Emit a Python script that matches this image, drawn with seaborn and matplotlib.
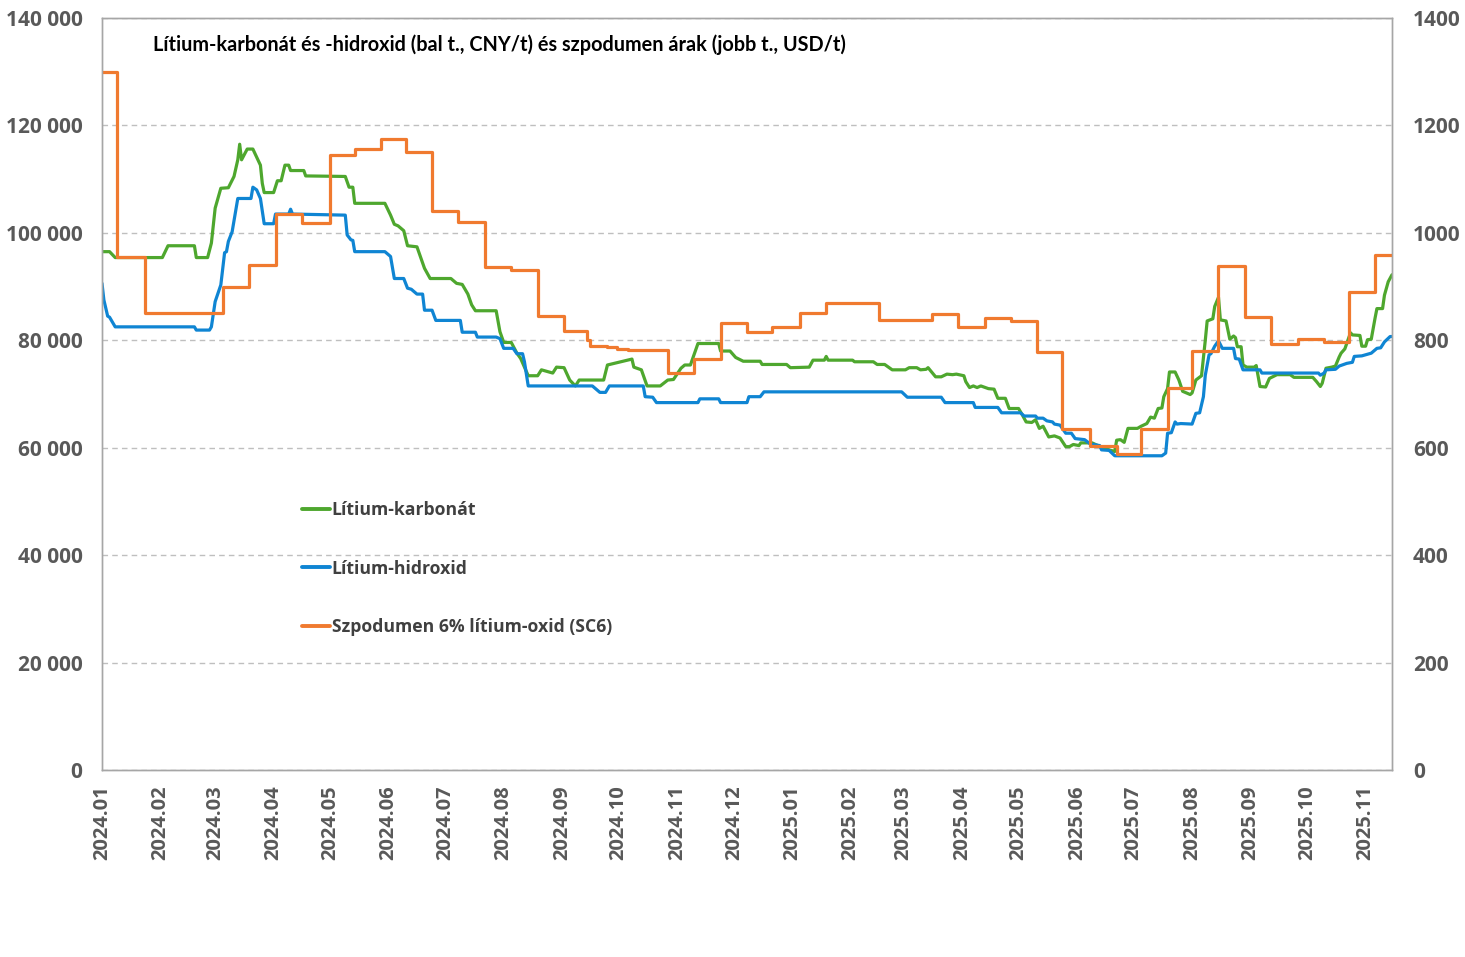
import matplotlib
matplotlib.use("Agg")
import matplotlib.pyplot as plt
from matplotlib.ticker import FuncFormatter, MultipleLocator
from matplotlib.lines import Line2D
import pandas as pd
import seaborn as sns

# ---------------- data ----------------
carbonate_dates = [
    "2024-01-01","2024-01-05","2024-01-08","2024-02-02","2024-02-05","2024-02-19","2024-02-20","2024-02-26",
    "2024-02-28","2024-03-01","2024-03-04","2024-03-08","2024-03-11","2024-03-13","2024-03-14","2024-03-15",
    "2024-03-18","2024-03-21","2024-03-25","2024-03-26","2024-03-27","2024-04-01","2024-04-03","2024-04-05",
    "2024-04-07","2024-04-09","2024-04-10","2024-04-17","2024-04-18","2024-05-09","2024-05-11","2024-05-13",
    "2024-05-14","2024-05-30","2024-06-02","2024-06-04","2024-06-06","2024-06-09","2024-06-11","2024-06-16",
    "2024-06-20","2024-06-23","2024-07-04","2024-07-07","2024-07-10","2024-07-13","2024-07-15","2024-07-17",
    "2024-07-28","2024-07-30","2024-08-01","2024-08-05","2024-08-08","2024-08-10","2024-08-14","2024-08-19",
    "2024-08-21","2024-08-27","2024-08-29","2024-09-02","2024-09-05","2024-09-08","2024-09-10","2024-09-23",
    "2024-09-25","2024-10-08","2024-10-09","2024-10-13","2024-10-16","2024-10-23","2024-10-27","2024-10-30",
    "2024-11-03","2024-11-05","2024-11-08","2024-11-12","2024-11-23","2024-11-24","2024-11-29","2024-12-02",
    "2024-12-06","2024-12-15","2024-12-16","2024-12-29","2024-12-31","2025-01-10","2025-01-12","2025-01-18",
    "2025-01-19","2025-01-20","2025-02-02","2025-02-03","2025-02-13","2025-02-15","2025-02-19","2025-02-21",
    "2025-02-23","2025-03-02","2025-03-04","2025-03-08","2025-03-10","2025-03-13","2025-03-14","2025-03-18",
    "2025-03-21","2025-03-24","2025-03-27","2025-03-29","2025-04-02","2025-04-03","2025-04-05","2025-04-07",
    "2025-04-09","2025-04-11","2025-04-15","2025-04-18","2025-04-20","2025-04-24","2025-04-26","2025-05-01",
    "2025-05-03","2025-05-05","2025-05-08","2025-05-10","2025-05-12","2025-05-14","2025-05-17","2025-05-20",
    "2025-05-23","2025-05-26","2025-05-28","2025-05-30","2025-06-02","2025-06-03","2025-06-09","2025-06-12",
    "2025-06-16","2025-06-19","2025-06-21","2025-06-22","2025-06-24","2025-06-26","2025-06-28","2025-07-03",
    "2025-07-05","2025-07-08","2025-07-10","2025-07-12","2025-07-14","2025-07-16","2025-07-17","2025-07-19",
    "2025-07-20","2025-07-23","2025-07-25","2025-07-27","2025-07-31","2025-08-01","2025-08-03","2025-08-06",
    "2025-08-08","2025-08-09","2025-08-12","2025-08-13","2025-08-15","2025-08-16","2025-08-19","2025-08-21",
    "2025-08-23","2025-08-24","2025-08-25","2025-08-27","2025-08-28","2025-08-30","2025-09-03","2025-09-04",
    "2025-09-06","2025-09-09","2025-09-11","2025-09-15","2025-09-22","2025-09-24","2025-10-04","2025-10-06",
    "2025-10-08","2025-10-09","2025-10-11","2025-10-14","2025-10-16","2025-10-18","2025-10-19","2025-10-21",
    "2025-10-23","2025-10-24","2025-10-25","2025-10-29","2025-10-30","2025-11-01","2025-11-02","2025-11-04",
    "2025-11-06","2025-11-07","2025-11-10","2025-11-11","2025-11-13","2025-11-15",
]
carbonate_values = [
    96500, 96500, 95400, 95400, 97600, 97600, 95400, 95400,
    98100, 104600, 108300, 108400, 110500, 113600, 116500, 113600,
    115600, 115600, 112600, 109200, 107500, 107500, 109700, 109700,
    112600, 112600, 111600, 111600, 110600, 110500, 108500, 108500,
    105500, 105500, 103300, 101600, 101300, 100400, 97600, 97400,
    93400, 91500, 91500, 90600, 90400, 88600, 86600, 85500,
    85500, 81600, 79600, 79600, 77600, 76600, 73400, 73400,
    74500, 73900, 75000, 74900, 72600, 71500, 72600, 72600,
    75400, 76500, 75000, 74500, 71500, 71500, 72600, 72700,
    74800, 75400, 75400, 79400, 79400, 78000, 78000, 76800,
    76100, 76100, 75500, 75500, 74900, 75000, 76300, 76300,
    77000, 76300, 76300, 76000, 76000, 75500, 75500, 75000,
    74500, 74500, 74900, 74900, 74500, 74600, 74900, 73200,
    73200, 73700, 73600, 73700, 73400, 72300, 71200, 71500,
    71200, 71500, 71000, 70900, 69200, 69200, 67300, 67300,
    66100, 64800, 64700, 65200, 63600, 64000, 62000, 62200,
    61800, 60200, 60200, 60600, 60400, 60900, 60900, 60400,
    59800, 59500, 59300, 61400, 61500, 61000, 63600, 63600,
    64000, 64500, 65700, 65500, 67300, 67400, 69500, 71000,
    74100, 74100, 72600, 70500, 69900, 70200, 72600, 73400,
    80000, 83600, 84000, 86300, 88000, 83800, 83600, 80200,
    80800, 80500, 78800, 78800, 75400, 75000, 75000, 75300,
    71400, 71300, 72900, 73600, 73600, 73100, 73100, 72300,
    71400, 72000, 74800, 75000, 75200, 76900, 77600, 78400,
    80400, 81400, 81000, 80900, 78900, 78900, 80100, 80200,
    84100, 85900, 85900, 88400, 90900, 92200,
]

hydroxide_dates = [
    "2024-01-01","2024-01-02","2024-01-04","2024-01-05","2024-01-08","2024-02-19","2024-02-20","2024-02-27",
    "2024-02-28","2024-03-01","2024-03-04","2024-03-06","2024-03-07","2024-03-08","2024-03-10","2024-03-13",
    "2024-03-20","2024-03-21","2024-03-23","2024-03-25","2024-03-27","2024-04-01","2024-04-02","2024-04-09",
    "2024-04-10","2024-04-11","2024-05-09","2024-05-10","2024-05-12","2024-05-13","2024-05-14","2024-05-30",
    "2024-06-02","2024-06-04","2024-06-09","2024-06-11","2024-06-13","2024-06-16","2024-06-19","2024-06-20",
    "2024-06-24","2024-06-26","2024-07-09","2024-07-10","2024-07-17","2024-07-18","2024-07-28","2024-07-30",
    "2024-08-01","2024-08-06","2024-08-08","2024-08-11","2024-08-12","2024-08-14","2024-09-17","2024-09-21",
    "2024-09-24","2024-09-26","2024-10-14","2024-10-15","2024-10-19","2024-10-21","2024-11-12","2024-11-13",
    "2024-11-23","2024-11-24","2024-12-08","2024-12-09","2024-12-15","2024-12-17","2025-02-28","2025-03-03",
    "2025-03-21","2025-03-23","2025-04-07","2025-04-08","2025-04-20","2025-04-22","2025-05-02","2025-05-04",
    "2025-05-10","2025-05-11","2025-05-14","2025-05-16","2025-05-19","2025-05-20","2025-05-23","2025-05-26",
    "2025-05-29","2025-05-31","2025-06-05","2025-06-08","2025-06-13","2025-06-14","2025-06-18","2025-06-21",
    "2025-07-16","2025-07-18","2025-07-19","2025-07-21","2025-07-23","2025-07-24","2025-07-26","2025-08-01",
    "2025-08-03","2025-08-05","2025-08-07","2025-08-08","2025-08-10","2025-08-11","2025-08-13","2025-08-15",
    "2025-08-17","2025-08-23","2025-08-24","2025-08-26","2025-08-28","2025-09-06","2025-09-07","2025-10-07",
    "2025-10-08","2025-10-10","2025-10-11","2025-10-16","2025-10-18","2025-10-22","2025-10-25","2025-10-26",
    "2025-10-30","2025-11-02","2025-11-04","2025-11-07","2025-11-09","2025-11-11","2025-11-14","2025-11-15",
]
hydroxide_values = [
    90600, 87500, 84500, 84300, 82500, 82500, 81900, 81900,
    82500, 87200, 90300, 96300, 96500, 98400, 100200, 106400,
    106400, 108500, 108000, 106400, 101700, 101700, 103500, 103500,
    104400, 103500, 103300, 99600, 98700, 98600, 96500, 96500,
    95600, 91500, 91500, 89700, 89500, 88600, 88600, 85600,
    85600, 83700, 83700, 81500, 81500, 80600, 80600, 80300,
    78500, 78500, 77500, 77500, 76000, 71500, 71500, 70300,
    70300, 71500, 71500, 69500, 69400, 68400, 68400, 69100,
    69100, 68400, 68400, 69500, 69500, 70400, 70400, 69400,
    69400, 68400, 68400, 67500, 67500, 66500, 66500, 65900,
    65900, 65500, 65500, 65000, 64800, 64400, 64200, 62700,
    62700, 61700, 61500, 60700, 60400, 59600, 59500, 58500,
    58500, 59000, 62700, 62800, 64800, 64400, 64500, 64400,
    66400, 66500, 69500, 73500, 77300, 77500, 78900, 79900,
    78500, 78500, 76600, 76500, 74500, 74500, 73900, 73900,
    73500, 73900, 74500, 74600, 75200, 75700, 75900, 77000,
    77100, 77400, 77600, 78500, 78600, 79700, 80700, 80700,
]

spodumene_dates = [
    "2024-01-01","2024-01-09","2024-01-24","2024-03-05","2024-03-19","2024-04-02","2024-04-16","2024-05-01",
    "2024-05-14","2024-05-28","2024-06-10","2024-06-24","2024-07-08","2024-07-22","2024-08-05","2024-08-19",
    "2024-09-02","2024-09-14","2024-09-16","2024-09-25","2024-09-30","2024-10-06","2024-10-27","2024-11-10",
    "2024-11-24","2024-12-08","2024-12-21","2025-01-05","2025-01-19","2025-02-16","2025-03-16","2025-03-30",
    "2025-04-13","2025-04-27","2025-05-11","2025-05-24","2025-06-08","2025-06-22","2025-07-05","2025-07-19",
    "2025-08-01","2025-08-15","2025-08-29","2025-09-12","2025-09-26","2025-10-10","2025-10-23","2025-11-06",
    "2025-11-15",
]
spodumene_values = [
    1300, 955, 850, 900, 940, 1035, 1018, 1145,
    1157, 1175, 1150, 1041, 1020, 936, 930, 845,
    817, 800, 790, 787, 784, 782, 739, 765,
    833, 815, 824, 850, 870, 838, 849, 825,
    841, 836, 778, 635, 604, 589, 635, 711,
    780, 938, 844, 794, 802, 797, 889, 959,
    959,
]

series_names = ["Lítium-karbonát", "Lítium-hidroxid", "Szpodumen 6% lítium-oxid (SC6)"]
series_colors = ["#4EA72E", "#0F85D3", "#F07A2F"]
month_ticks = pd.date_range("2024-01-01", "2025-11-01", freq="MS")
tick_labels = [d.strftime("%Y.%m") for d in month_ticks]
title_text = "Lítium-karbonát és -hidroxid (bal t., CNY/t) és szpodumen árak (jobb t., USD/t)"

for a, b, n in [(carbonate_dates, carbonate_values, "carb"),
                (hydroxide_dates, hydroxide_values, "hydr"),
                (spodumene_dates, spodumene_values, "spod")]:
    if len(a) != len(b):
        raise ValueError(f"{n}: {len(a)} dates vs {len(b)} values")

carb_df = pd.DataFrame({"date": pd.to_datetime(carbonate_dates), "value": carbonate_values})
hydr_df = pd.DataFrame({"date": pd.to_datetime(hydroxide_dates), "value": hydroxide_values})
spod_df = pd.DataFrame({"date": pd.to_datetime(spodumene_dates), "value": spodumene_values})

# ---------------- style ----------------
sns.set_theme(style="white")
plt.rcParams["font.family"] = ["Lato", "DejaVu Sans"]
plt.rcParams["font.weight"] = "bold"
plt.rcParams["axes.unicode_minus"] = False

label_gray = "#595959"
legend_gray = "#404040"
spine_gray = "#A6A6A6"

fig = plt.figure(figsize=(14.65, 9.57), dpi=100)
ax = fig.add_axes([102 / 1465, 1 - 770 / 957, 1290 / 1465, 752 / 957])
ax2 = ax.twinx()

sns.lineplot(data=carb_df, x="date", y="value", ax=ax, color=series_colors[0],
             linewidth=2.3, estimator=None, legend=False)
sns.lineplot(data=hydr_df, x="date", y="value", ax=ax, color=series_colors[1],
             linewidth=2.3, estimator=None, legend=False)
sns.lineplot(data=spod_df, x="date", y="value", ax=ax2, color=series_colors[2],
             linewidth=2.3, estimator=None, legend=False, drawstyle="steps-post")

ax.set_xlim(pd.Timestamp("2024-01-01"), pd.Timestamp("2025-11-15"))
ax.set_ylim(0, 140000)
ax2.set_ylim(0, 1400)
ax.yaxis.set_major_locator(MultipleLocator(20000))
ax2.yaxis.set_major_locator(MultipleLocator(200))
ax.yaxis.set_major_formatter(FuncFormatter(lambda v, p: f"{int(round(v)):,}".replace(",", " ")))
ax2.yaxis.set_major_formatter(FuncFormatter(lambda v, p: f"{int(round(v))}"))

ax.set_xticks(month_ticks, tick_labels, rotation=90, fontweight="bold")
ax.set_xlabel("")
ax.set_ylabel("")
ax2.set_ylabel("")

ax.grid(axis="y", color="#BFBFBF", linestyle=(0, (4, 3)), linewidth=1.0)
ax.set_axisbelow(True)

for axis in (ax, ax2):
    for s in axis.spines.values():
        s.set_color(spine_gray)
        s.set_linewidth(1.0)
        s.set_visible(True)

tick_family = "Open Sans"
ax.tick_params(axis="y", length=0, pad=14, labelsize=15, labelcolor=label_gray,
               labelfontfamily=tick_family)
ax2.tick_params(axis="y", length=0, pad=15, labelsize=15, labelcolor=label_gray,
                labelfontfamily=tick_family)
ax.tick_params(axis="x", length=0, pad=11, labelsize=14.5, labelcolor=label_gray,
               labelfontfamily=tick_family)

ax.text((153 - 102) / 1290, (770 - 45) / 752, title_text, transform=ax.transAxes,
        ha="left", va="center", fontsize=14.3, fontweight="bold", color="#000000")

handles = [Line2D([], [], color=c, linewidth=2.8) for c in series_colors]
leg = fig.legend(handles, series_names, loc="upper left",
                 bbox_to_anchor=(302 / 1465, 1 - 501 / 957), bbox_transform=fig.transFigure,
                 frameon=False, borderpad=0, borderaxespad=0, handlelength=1.6, handletextpad=0.08,
                 labelspacing=2.3,
                 prop={"family": ["Open Sans", "DejaVu Sans"], "weight": "bold", "size": 12.7})
for t in leg.get_texts():
    t.set_color(legend_gray)

fig.savefig("out.png", dpi=100)
